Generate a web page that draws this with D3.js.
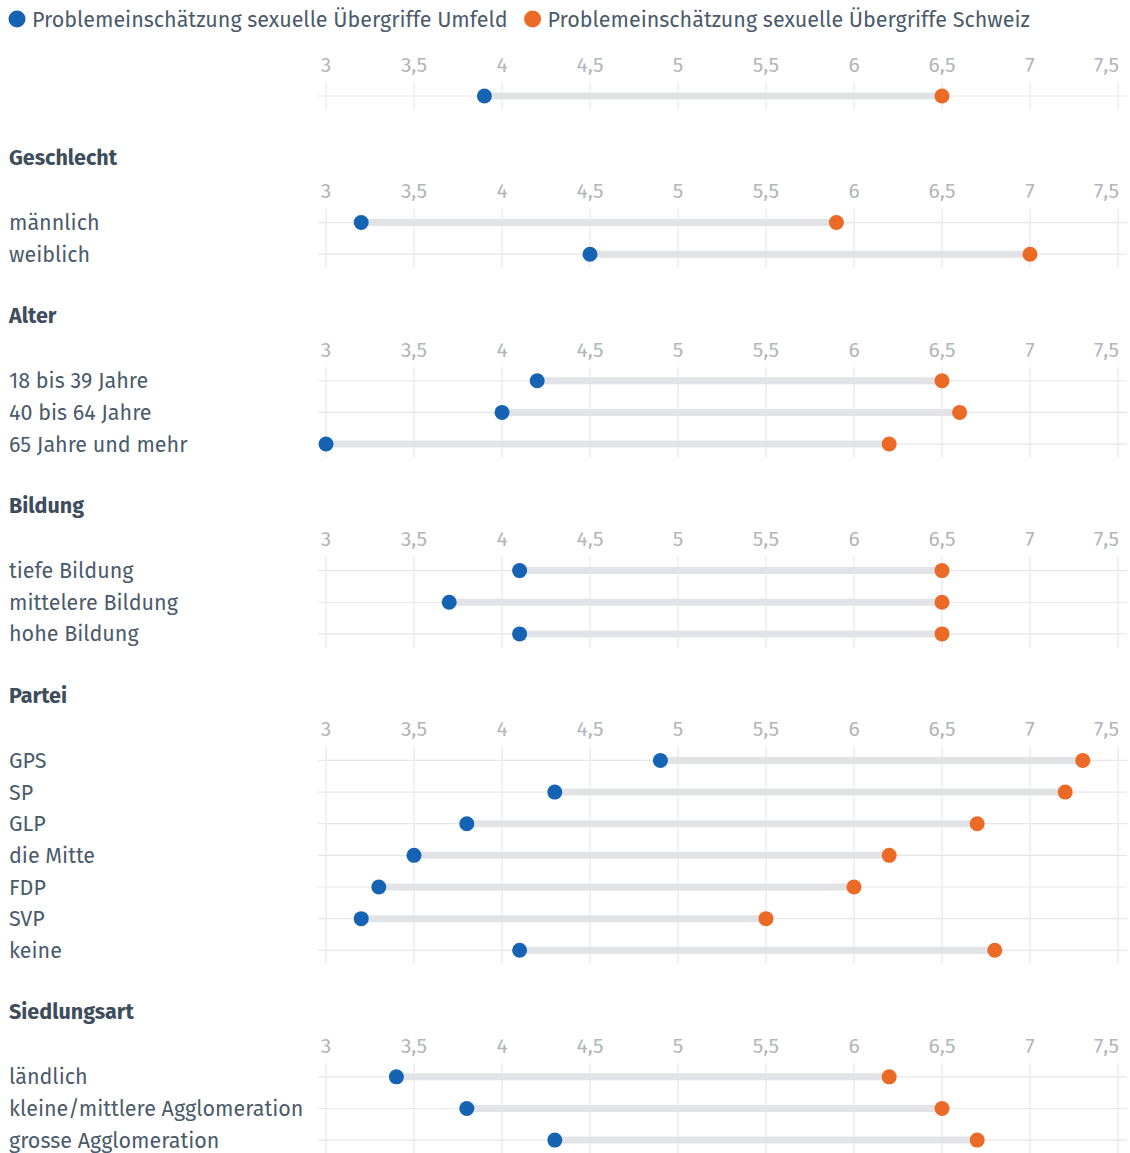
<!DOCTYPE html>
<html><head><meta charset="utf-8">
<script src="https://cdn.jsdelivr.net/npm/d3@7"></script>
<style>
html,body{margin:0;padding:0;background:#fff;}
svg{display:block;font-family:"Fira Sans","Noto Sans",sans-serif;}
</style></head>
<body>
<svg id="chart" width="1130" height="1153"></svg>
<script>
const seriesNames = ["Problemeinschätzung sexuelle Übergriffe Umfeld", "Problemeinschätzung sexuelle Übergriffe Schweiz"];
const seriesColors = ["#1763b3", "#ea6a26"];
const groupTitles = ["", "Geschlecht", "Alter", "Bildung", "Partei", "Siedlungsart"];
const groupCategories = [
  ["Total"],
  ["männlich", "weiblich"],
  ["18 bis 39 Jahre", "40 bis 64 Jahre", "65 Jahre und mehr"],
  ["tiefe Bildung", "mittelere Bildung", "hohe Bildung"],
  ["GPS", "SP", "GLP", "die Mitte", "FDP", "SVP", "keine"],
  ["ländlich", "kleine/mittlere Agglomeration", "grosse Agglomeration"]
];
const umfeldValues = [
  [3.9],
  [3.2, 4.5],
  [4.2, 4.0, 3.0],
  [4.1, 3.7, 4.1],
  [4.9, 4.3, 3.8, 3.5, 3.3, 3.2, 4.1],
  [3.4, 3.8, 4.3]
];
const schweizValues = [
  [6.5],
  [5.9, 7.0],
  [6.5, 6.6, 6.2],
  [6.5, 6.5, 6.5],
  [7.3, 7.2, 6.7, 6.2, 6.0, 5.5, 6.8],
  [6.2, 6.5, 6.7]
];
const tickValues = [3, 3.5, 4, 4.5, 5, 5.5, 6, 6.5, 7, 7.5];

const svg = d3.select("#chart");
const x = d3.scaleLinear().domain([3, 7.5]).range([326, 1118]);
const fmt = v => String(v).replace(".", ",");
const FS = 21.5;

// legend
const leg = svg.append("g");
let lx = 17;
seriesNames.forEach((n, i) => {
  leg.append("circle").attr("cx", lx).attr("cy", 19).attr("r", 8.5).attr("fill", seriesColors[i]);
  const t = leg.append("text").attr("x", lx + 15).attr("y", 26.5).attr("font-size", FS)
    .attr("fill", "#4b5b6b").text(n);
  lx = lx + 15 + t.node().getComputedTextLength() + 25;
});

const p = 31.64;
const lastTick = tickValues[tickValues.length - 1];
let r = 96;
groupTitles.forEach((title, gi) => {
  const g = svg.append("g");
  const cats = groupCategories[gi];
  const y0 = r;
  const yEnd = y0 + p * (cats.length - 1);
  const yScale = d3.scalePoint().domain(cats).range([y0, yEnd]);
  const tickY = y0 - p;
  if (title) {
    g.append("text").attr("x", 9).attr("y", y0 - 2 * p - 2 + 7.5).attr("font-size", FS).attr("font-weight", 700)
      .attr("fill", "#3e4d5c").text(title);
  }
  g.selectAll(".tick").data(tickValues).join("text")
    .attr("x", d => d === lastTick ? x(d) + 1 : x(d)).attr("y", tickY + 7.5)
    .attr("text-anchor", d => d === lastTick ? "end" : "middle")
    .attr("font-size", 21).attr("fill", "#b2b6ba").text(fmt);
  g.selectAll(".vg").data(tickValues).join("line")
    .attr("x1", d => x(d)).attr("x2", d => x(d))
    .attr("y1", y0 - 14).attr("y2", yEnd + 14)
    .attr("stroke", "#e6e7e9").attr("stroke-width", 1.2);
  g.selectAll(".hg").data(cats).join("line")
    .attr("x1", 318).attr("x2", 1127)
    .attr("y1", d => yScale(d)).attr("y2", d => yScale(d))
    .attr("stroke", "#e6e7e9").attr("stroke-width", 1.2);
  if (title) {
    g.selectAll(".lab").data(cats).join("text")
      .attr("x", 9).attr("y", d => yScale(d) + 7.5).attr("font-size", FS)
      .attr("fill", "#4b5b6b").text(d => d);
  }
  g.selectAll(".bar").data(cats).join("line")
    .attr("x1", (d, i) => x(umfeldValues[gi][i])).attr("x2", (d, i) => x(schweizValues[gi][i]))
    .attr("y1", d => yScale(d)).attr("y2", d => yScale(d))
    .attr("stroke", "#e2e3e6").attr("stroke-width", 7);
  g.selectAll(".d1").data(cats).join("circle")
    .attr("cx", (d, i) => x(umfeldValues[gi][i])).attr("cy", d => yScale(d)).attr("r", 7.5)
    .attr("fill", seriesColors[0]);
  g.selectAll(".d2").data(cats).join("circle")
    .attr("cx", (d, i) => x(schweizValues[gi][i])).attr("cy", d => yScale(d)).attr("r", 7.5)
    .attr("fill", seriesColors[1]);
  r = yEnd + 4 * p;
});
</script>
</body></html>
